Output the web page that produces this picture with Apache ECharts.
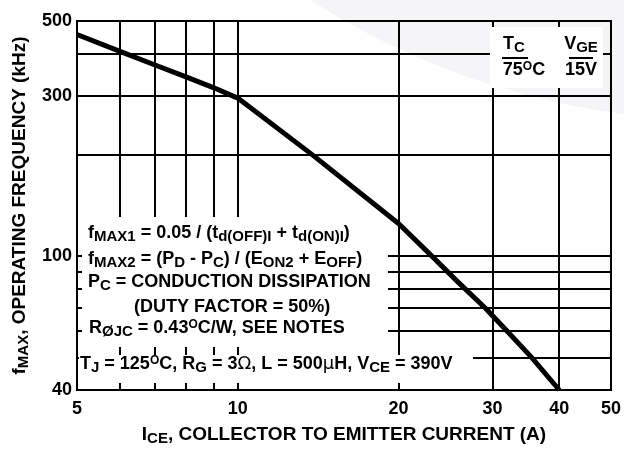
<!DOCTYPE html>
<html>
<head>
<meta charset="utf-8">
<script src="https://cdn.jsdelivr.net/npm/echarts@6/dist/echarts.min.js"></script>
<style>html,body{margin:0;padding:0;background:#fff;}#c{width:624px;height:451px;}</style>
</head>
<body>
<div id="c"></div>
<script>
// ---- data ----
const currentA = [5, 6, 7, 8, 9, 10, 13.8, 20, 23.1, 25.6, 29.1, 31.9, 35.5, 40];
const freqKHz  = [456, 407, 370, 341, 317, 295, 200, 125, 100, 85, 70, 60, 50, 40];
const xTickLabels = [5, 10, 20, 30, 40, 50];
const xGridValues = [6, 7, 8, 9, 10, 20, 30, 40];
const yTickLabels = [40, 100, 300, 500];
const yGridValues = [50, 60, 70, 80, 90, 100, 200, 300, 400];

const FF = '"Liberation Sans", Arial, Helvetica, sans-serif';
const chart = echarts.init(document.getElementById('c'), null, {renderer: 'canvas'});

const M = 'bold 18px ' + FF;
const rich = {
  m: {font: M, fill: '#000', lineHeight: 22},
  s: {font: 'bold 15px ' + FF, fill: '#000', lineHeight: 15, padding: [8, 0, 0, 0]},
  u: {font: 'bold 12px ' + FF, fill: '#000', lineHeight: 12, padding: [0, 0, 6, 0]},
  y: {font: '18px "DejaVu Sans", sans-serif', fill: '#000', lineHeight: 22}
};
function txt(x, y, text, align) {
  return {type: 'text', x: x, y: y, z: 5,
    style: {text: text, rich: rich, font: M, fill: '#000',
      textAlign: align || 'left', align: align || 'left',
      textVerticalAlign: 'middle', verticalAlign: 'middle'}};
}
const lines = [
  txt(88, 233, '{m|f}{s|MAX1}{m| = 0.05 / (t}{s|d(OFF)I}{m| + t}{s|d(ON)I}{m|)}'),
  txt(88, 259, '{m|f}{s|MAX2}{m| = (P}{s|D}{m| - P}{s|C}{m|) / (E}{s|ON2}{m| + E}{s|OFF}{m|)}'),
  txt(88, 282, '{m|P}{s|C}{m| = CONDUCTION DISSIPATION}'),
  txt(134, 307, '{m|(DUTY FACTOR = 50%)}'),
  txt(89, 328, '{m|R}{s|ØJC}{m| = 0.43}{u|O}{m|C/W, SEE NOTES}'),
  txt(80, 364, '{m|T}{s|J}{m| = 125}{u|O}{m|C, R}{s|G}{m| = 3}{y|Ω}{m|, L = 500}{y|μ}{m|H, V}{s|CE}{m| = 390V}'),
  txt(514, 44, '{m|T}{s|C}', 'center'),
  txt(581, 44, '{m|V}{s|GE}', 'center'),
  txt(524, 70, '{m|75}{u|O}{m|C}', 'center'),
  txt(581, 70, '{m|15V}', 'center')
];

const nameRich = {
  m: {color: '#000', fontFamily: FF, fontWeight: 'bold', fontSize: 19, lineHeight: 22},
  s: {color: '#000', fontFamily: FF, fontWeight: 'bold', fontSize: 15, lineHeight: 15, padding: [8, 0, 0, 0]}
};

const option = {
  backgroundColor: '#fff',
  animation: false,
  grid: {left: 77, right: 11, top: 21, bottom: 61, show: true, borderColor: '#000', borderWidth: 2},
  xAxis: {
    type: 'log', logBase: 10, min: 5, max: 50,
    axisLine: {show: true, lineStyle: {color: '#000', width: 2}},
    axisTick: {show: false, customValues: xGridValues},
    axisLabel: {customValues: xTickLabels, formatter: v => String(Math.round(v)),
      color: '#000', fontFamily: FF, fontWeight: 'bold', fontSize: 18, margin: 10},
    splitLine: {show: true, lineStyle: {color: '#000', width: 2}},
    name: '{m|I}{s|CE}{m|, COLLECTOR TO EMITTER CURRENT (A)}',
    nameLocation: 'middle', nameGap: 31,
    nameTextStyle: {color: '#000', fontFamily: FF, fontWeight: 'bold', fontSize: 19, rich: nameRich}
  },
  yAxis: {
    type: 'log', logBase: 10, min: 40, max: 500,
    axisLine: {show: true, lineStyle: {color: '#000', width: 2}},
    axisTick: {show: false, customValues: yGridValues},
    axisLabel: {customValues: yTickLabels, formatter: v => String(Math.round(v)),
      color: '#000', fontFamily: FF, fontWeight: 'bold', fontSize: 18, margin: 5},
    splitLine: {show: true, lineStyle: {color: '#000', width: 2}},
    name: '{m|f}{s|MAX}{m|, OPERATING FREQUENCY (kHz)}',
    nameLocation: 'middle', nameGap: 39,
    nameTextStyle: {color: '#000', fontFamily: FF, fontWeight: 'bold', fontSize: 19, rich: nameRich}
  },
  series: [{
    type: 'line', z: 10,
    data: currentA.map((x, i) => [x, freqKHz[i]]),
    symbol: 'none',
    lineStyle: {color: '#000', width: 5, join: 'round'}
  }],
  graphic: [
    {type: 'circle', z: -10, shape: {cx: 720, cy: -640, r: 760}, style: {fill: '#f5f5f8'}},
    {type: 'rect', z: 4, shape: {x: 82, y: 217, width: 306, height: 130}, style: {fill: '#fff'}},
    {type: 'rect', z: 4, shape: {x: 79, y: 355, width: 394, height: 28}, style: {fill: '#fff'}},
    {type: 'rect', z: 4, shape: {x: 490, y: 27, width: 113, height: 61}, style: {fill: '#fff'}},
    {type: 'line', z: 5, shape: {x1: 502, y1: 58, x2: 528, y2: 58}, style: {stroke: '#000', lineWidth: 2}},
    {type: 'line', z: 5, shape: {x1: 569, y1: 58, x2: 593, y2: 58}, style: {stroke: '#000', lineWidth: 2}}
  ].concat(lines)
};
chart.setOption(option);
</script>
</body>
</html>
